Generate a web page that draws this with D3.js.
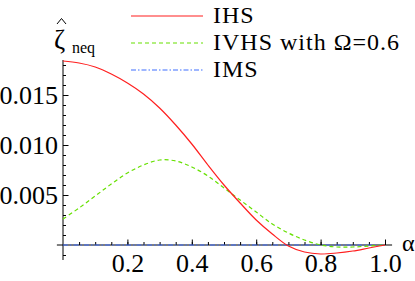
<!DOCTYPE html>
<html>
<head>
<meta charset="utf-8">
<script src="https://cdn.jsdelivr.net/npm/d3@7"></script>
<style>
  body { margin: 0; background: #fff; }
</style>
</head>
<body>
<script>
'use strict';

// alpha grid and curves
const alpha = [0, 0.05, 0.1, 0.15, 0.2, 0.25, 0.3, 0.35, 0.4, 0.45, 0.5,
               0.55, 0.6, 0.65, 0.7, 0.75, 0.8, 0.85, 0.9, 0.95, 1.0];
const ihs = [0.0184, 0.0182, 0.0178, 0.0171, 0.0162, 0.0151, 0.0137, 0.0120, 0.0101, 0.0080, 0.0060,
             0.0042, 0.0025, 0.0011, -0.0001, -0.0007, -0.0009, -0.0008, -0.0006, -0.0003, 0];
const ivhs = [0.0026, 0.0037, 0.0049, 0.0061, 0.0072, 0.0080, 0.0085, 0.0084, 0.0078, 0.0069, 0.0057,
              0.0045, 0.0033, 0.0021, 0.0012, 0.0005, 0.0000, -0.0002, -0.0002, -0.0001, 0];
const ims = alpha.map(() => 0);

const xTicks = [0.2, 0.4, 0.6, 0.8, 1.0];
const yTicks = [0.005, 0.010, 0.015];
const legendNames = ["IHS", "IVHS with \u03A9=0.6", "IMS"];

const serif = "'Liberation Serif', 'DejaVu Serif', serif";
const width = 415, height = 281;

const svg = d3.select("body").append("svg")
    .attr("width", width)
    .attr("height", height)
    .style("font-family", serif);

const x = d3.scaleLinear().domain([0, 1]).range([63, 385]);
const y = d3.scaleLinear().domain([-0.0015, 0.0185]).range([260, 60]);

// x axis line, sticking out a little past both ends
svg.append("line")
    .attr("x1", x(-0.019)).attr("x2", x(1.022))
    .attr("y1", y(0)).attr("y2", y(0))
    .attr("stroke", "#000").attr("stroke-width", 1);

// y axis
let minorY = d3.range(-1, 19).map(d => d / 1000).filter(d => d !== 0);
svg.append("g")
    .attr("transform", "translate(" + x(0) + ",0)")
    .call(d3.axisLeft(y).tickValues(minorY).tickSizeInner(-3).tickSizeOuter(0).tickFormat(""))
    .call(g => g.select(".domain").remove())
    .call(g => g.selectAll("text").remove());

svg.append("g")
    .attr("transform", "translate(" + x(0) + ",0)")
    .call(d3.axisLeft(y).tickValues(yTicks).tickSizeInner(-5.5).tickSizeOuter(0)
        .tickPadding(5).tickFormat(d3.format(".3f")))
    .call(g => g.select(".domain").remove())
    .call(g => g.selectAll("text").style("font-family", serif).style("font-size", "26px"));

svg.append("line")
    .attr("x1", x(0)).attr("x2", x(0))
    .attr("y1", y.range()[0]).attr("y2", y.range()[1])
    .attr("stroke", "#000").attr("stroke-width", 1);

// x ticks, pointing up
let minorX = d3.range(1, 21).map(d => d / 20);
svg.append("g")
    .attr("transform", "translate(0," + y(0) + ")")
    .call(d3.axisBottom(x).tickValues(minorX).tickSizeInner(-3).tickSizeOuter(0).tickFormat(""))
    .call(g => g.select(".domain").remove())
    .call(g => g.selectAll("text").remove());

svg.append("g")
    .attr("transform", "translate(0," + y(0) + ")")
    .call(d3.axisBottom(x).tickValues(xTicks).tickSizeInner(-5.5).tickSizeOuter(0)
        .tickPadding(8.5).tickFormat(d3.format(".1f")))
    .call(g => g.select(".domain").remove())
    .call(g => g.selectAll("text").style("font-family", serif).style("font-size", "26px"));

// curves
const styles = [
    { data: ihs, color: "#ff1f1f", dash: null },
    { data: ivhs, color: "#66e000", dash: "4,3" },
    { data: ims, color: "#3f6fff", dash: "5,2,1.5,2" }
];

const line = d3.line()
    .x((d, i) => x(alpha[i]))
    .y(d => y(d))
    .curve(d3.curveCatmullRom);

svg.selectAll(".curve")
    .data(styles.slice().reverse())
    .enter()
    .append("path")
    .attr("class", "curve")
    .attr("d", d => line(d.data))
    .attr("fill", "none")
    .attr("stroke", d => d.color)
    .attr("stroke-width", 1.2)
    .attr("stroke-dasharray", d => d.dash);

// axis labels
svg.append("text")
    .attr("x", 402).attr("y", 251)
    .style("font-family", serif).style("font-size", "24px")
    .text("\u03B1");

svg.append("text")
    .attr("x", 54).attr("y", 49)
    .style("font-family", serif).style("font-size", "27px")
    .text("\u03B6");
svg.append("path")
    .attr("d", "M57,24 L61.5,18.5 L66,24")
    .attr("fill", "none")
    .attr("stroke", "#000")
    .attr("stroke-width", 1);
svg.append("text")
    .attr("x", 72).attr("y", 53)
    .style("font-family", serif).style("font-size", "16px")
    .text("neq");

// legend
const legendRows = [16, 43, 70];
const legend = svg.selectAll(".legend")
    .data(styles)
    .enter()
    .append("g")
    .attr("class", "legend");

legend.append("line")
    .attr("x1", 131).attr("x2", 203)
    .attr("y1", (d, i) => legendRows[i]).attr("y2", (d, i) => legendRows[i])
    .attr("stroke", d => d.color)
    .attr("stroke-width", 1.2)
    .attr("stroke-dasharray", d => d.dash);

legend.append("text")
    .attr("x", 213)
    .attr("y", (d, i) => legendRows[i] + 7)
    .style("font-family", serif).style("font-size", "24px")
    .style("letter-spacing", "1px")
    .text((d, i) => legendNames[i]);
</script>
</body>
</html>
